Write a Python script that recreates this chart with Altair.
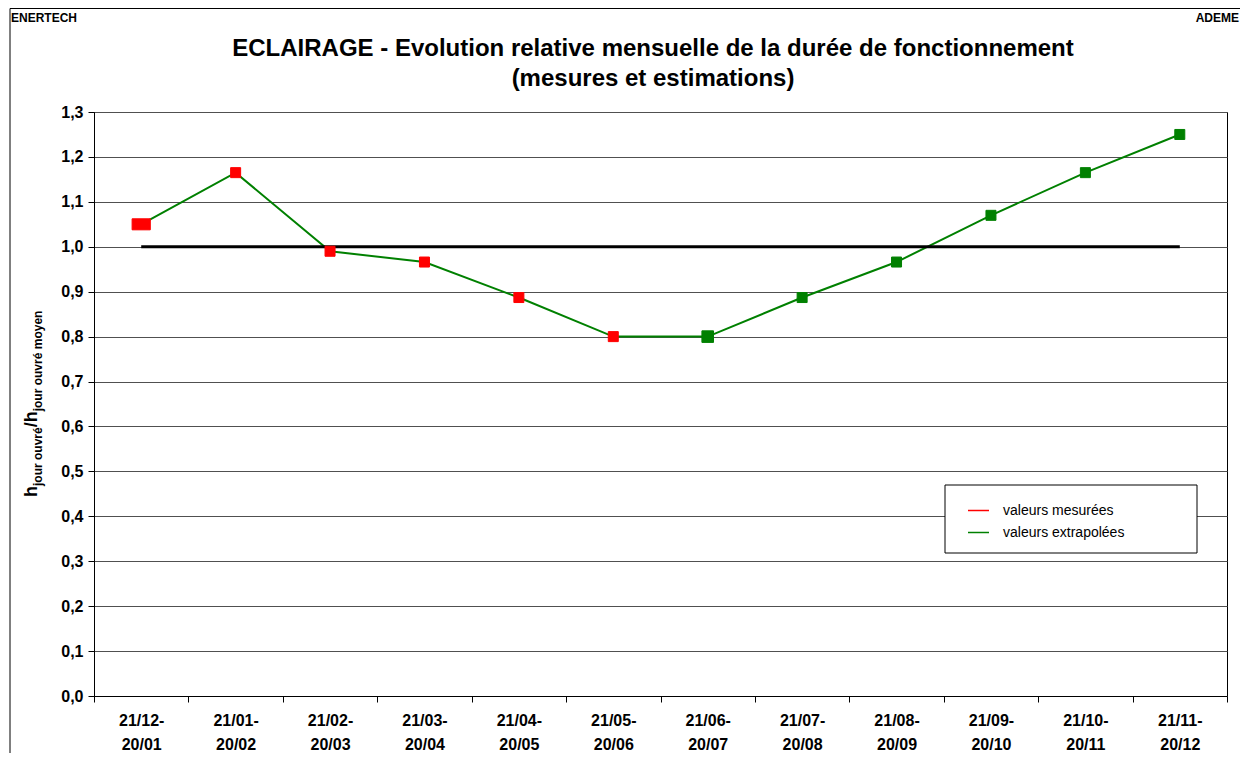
import altair as alt
import pandas as pd

categories = ["21/12- 20/01", "21/01- 20/02", "21/02- 20/03", "21/03- 20/04",
              "21/04- 20/05", "21/05- 20/06", "21/06- 20/07", "21/07- 20/08",
              "21/08- 20/09", "21/09- 20/10", "21/10- 20/11", "21/11- 20/12"]
ratio = [1.05, 1.165, 0.99, 0.966, 0.887, 0.80, 0.80, 0.887, 0.966, 1.07, 1.165, 1.25]
series = ["valeurs mesurées", "valeurs mesurées", "valeurs mesurées",
          "valeurs mesurées", "valeurs mesurées", "valeurs mesurées",
          "valeurs extrapolées", "valeurs extrapolées", "valeurs extrapolées",
          "valeurs extrapolées", "valeurs extrapolées", "valeurs extrapolées"]
markers = ["wide", "normal", "normal", "normal", "normal", "normal",
           "large", "normal", "normal", "normal", "normal", "normal"]
series_names = ["valeurs mesurées", "valeurs extrapolées"]
series_colors = ["#FF0000", "#008000"]
marker_kinds = ["normal", "large", "wide"]
marker_shapes = ["square", "square", "M-1.4,-0.85L1.4,-0.85L1.4,0.85L-1.4,0.85Z"]
marker_sizes = [100, 169, 256]
y_ticks = [0.0, 0.1, 0.2, 0.3, 0.4, 0.5, 0.6, 0.7, 0.8, 0.9, 1.0, 1.1, 1.2, 1.3]
reference_x = ["21/12- 20/01", "21/11- 20/12"]
reference_y = [1.0, 1.0]
title_lines = ["ECLAIRAGE - Evolution relative mensuelle de la durée de fonctionnement",
               "(mesures et estimations)"]

FONT = "Liberation Sans"
W, H = 1133, 584

df = pd.DataFrame({"periode": categories, "ratio": ratio, "serie": series, "marker": markers})
ref = pd.DataFrame({"periode": reference_x, "ratio": reference_y})

xscale = alt.Scale(type="band", domain=categories, paddingInner=0, paddingOuter=0)
yscale = alt.Scale(domain=[0, 1.3], nice=False, zero=True)

x_axis = alt.Axis(title=None, tickBand="extent", labelAngle=0, grid=False,
                  labelExpr="split(datum.label, ' ')", labelFont=FONT, labelFontSize=16,
                  labelFontWeight="bold", labelColor="black", labelPadding=10,
                  labelLineHeight=24, domainColor="black", tickColor="black", tickSize=6)
y_axis = alt.Axis(title=None, values=y_ticks, grid=True, gridColor="#505050", gridWidth=1,
                  labelExpr="replace(format(datum.value, '.1f'), '.', ',')",
                  labelFont=FONT, labelFontSize=16, labelFontWeight="bold",
                  labelColor="black", labelPadding=5, domainColor="black",
                  tickColor="black", tickSize=6)

X = alt.X("periode:N", scale=xscale, sort=categories, axis=x_axis)
Y = alt.Y("ratio:Q", scale=yscale, axis=y_axis)

color_scale = alt.Scale(domain=series_names, range=series_colors)
legend = alt.Legend(title=None, orient="none", legendX=873, legendY=387,
                    symbolType="stroke", symbolSize=441, symbolStrokeWidth=1.5,
                    labelFont=FONT, labelFontSize=14, labelColor="black",
                    labelOffset=13, rowPadding=3, padding=0)

one = pd.DataFrame({"t": [""]})

frame_top = alt.Chart(one).mark_rule(color="black", strokeWidth=1).encode(
    x=alt.value(-84), x2=alt.value(W + 60), y=alt.value(-103.5))
frame_left = alt.Chart(one).mark_rule(color="black", strokeWidth=1).encode(
    x=alt.value(-84), y=alt.value(-103.5), y2=alt.value(H + 120))

legend_box = alt.Chart(one).mark_rect(fill="white", stroke="black", strokeWidth=1).encode(
    x=alt.value(851), x2=alt.value(1103), y=alt.value(373), y2=alt.value(441))

ref_line = alt.Chart(ref).mark_line(color="black", strokeWidth=3).encode(x=X, y=Y)

line = alt.Chart(df).mark_line(color="#008000", strokeWidth=2).encode(x=X, y=Y)

points = alt.Chart(df).mark_point(filled=True, opacity=1, strokeWidth=1).encode(
    x=X, y=Y,
    fill=alt.Fill("serie:N", scale=color_scale, legend=legend),
    stroke=alt.Stroke("serie:N", scale=color_scale, legend=legend),
    shape=alt.Shape("marker:N", scale=alt.Scale(domain=marker_kinds, range=marker_shapes), legend=None),
    size=alt.Size("marker:O", scale=alt.Scale(domain=marker_kinds, range=marker_sizes), legend=None),
)


def label(text, x, y, size, weight="bold", align="left", angle=0):
    return alt.Chart(pd.DataFrame({"t": [text]})).mark_text(
        font=FONT, fontSize=size, fontWeight=weight, align=align, baseline="alphabetic",
        angle=angle, color="black").encode(text="t:N", x=alt.value(x), y=alt.value(y))


texts = [
    label("ENERTECH", -83, -90, 12),
    label("ADEME", W + 12, -90, 12, align="right"),
    label(title_lines[0], 559, -56, 24, align="center"),
    label(title_lines[1], 559, -26, 24, align="center"),
    label("h", -57, 385, 18, angle=270),
    label("jour ouvré", -52, 374, 12, angle=270),
    label("/h", -57, 315.3, 18, angle=270),
    label("jour ouvré moyen", -52, 299.3, 12, angle=270),
]

chart = alt.layer(frame_top, frame_left, line, legend_box, ref_line, points, *texts).properties(
    width=W, height=H,
    padding={"left": 86, "top": 104, "right": 13, "bottom": 57},
    autosize=alt.AutoSizeParams(type="none"),
).configure(background="white").configure_view(stroke="black", strokeWidth=1)

chart.save("out.html", embed_options={"renderer": "svg", "actions": False})
